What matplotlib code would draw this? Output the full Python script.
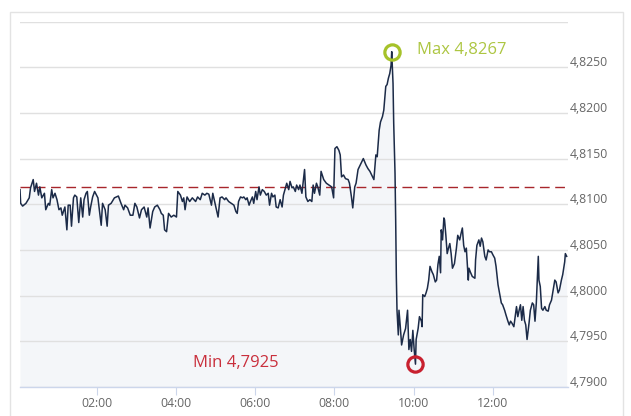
import matplotlib
matplotlib.use("Agg")
import matplotlib.pyplot as plt
from matplotlib.patches import Rectangle
from matplotlib.transforms import ScaledTranslation

plt.rcParams["font.family"] = ["Open Sans", "DejaVu Sans"]

# minutes since 00:00 and price
minutes = [
    4, 5, 8, 13, 18, 20, 24, 26, 29, 32, 34, 37, 41, 43, 47, 49, 52, 54, 57, 60,
    63, 66, 68, 72, 75, 77, 80, 82, 85, 87, 90, 93, 96, 99, 101, 104, 106, 109, 111, 114,
    117, 122, 127, 129, 133, 136, 138, 142, 147, 153, 157, 161, 163, 167, 171, 175, 178, 181, 185, 188,
    192, 196, 198, 201, 205, 208, 212, 216, 218, 221, 223, 226, 229, 233, 237, 241, 243, 247, 250, 252,
    254, 257, 261, 265, 270, 273, 277, 280, 284, 287, 290, 294, 296, 300, 304, 307, 310, 314, 316, 320,
    324, 328, 331, 333, 335, 338, 341, 343, 346, 348, 351, 353, 356, 358, 361, 363, 366, 368, 371, 374,
    377, 380, 382, 385, 387, 390, 392, 395, 398, 401, 403, 406, 408, 411, 413, 416, 418, 421, 423, 426,
    428, 431, 435, 437, 440, 443, 446, 448, 450, 453, 455, 458, 460, 464, 468, 472, 476, 479, 481, 484,
    487, 489, 491, 494, 497, 501, 503, 506, 508, 511, 513, 516, 518, 522, 524, 528, 531, 534, 538, 540,
    543, 545, 548, 550, 553, 555, 558, 560, 562, 564, 566, 567, 569, 570, 572, 573, 574, 575, 577, 578,
    580, 582, 585, 588, 591, 593, 595, 597, 599, 601, 603, 604, 607, 609, 612, 613, 614, 617, 619, 621,
    623, 625, 628, 630, 633, 635, 637, 639, 641, 642, 644, 646, 647, 649, 651, 653, 655, 657, 659, 662,
    665, 667, 670, 672, 674, 676, 678, 680, 683, 684, 686, 689, 693, 694, 696, 699, 701, 703, 705, 708,
    710, 713, 715, 718, 720, 723, 725, 728, 730, 733, 735, 738, 740, 743, 745, 747, 749, 752, 754, 756,
    758, 760, 762, 764, 766, 768, 770, 772, 775, 777, 780, 782, 784, 786, 789, 790, 792, 794, 796, 799,
    801, 804, 806, 809, 811, 814, 816, 819, 821, 824, 826, 829, 830, 832,
]
prices = [
    4.8116, 4.8101, 4.8098, 4.8101, 4.8107, 4.8118, 4.8127, 4.8114, 4.8123, 4.8110,
    4.8119, 4.8107, 4.8112, 4.8094, 4.8101, 4.8099, 4.8116, 4.8107, 4.8112, 4.8105,
    4.8094, 4.8096, 4.8088, 4.8097, 4.8072, 4.8099, 4.8099, 4.8076, 4.8107, 4.8110,
    4.8108, 4.8080, 4.8107, 4.8086, 4.8105, 4.8112, 4.8114, 4.8088, 4.8097, 4.8108,
    4.8114, 4.8107, 4.8077, 4.8101, 4.8094, 4.8076, 4.8099, 4.8101, 4.8107, 4.8109,
    4.8101, 4.8094, 4.8099, 4.8096, 4.8088, 4.8088, 4.8101, 4.8097, 4.8085, 4.8094,
    4.8097, 4.8086, 4.8096, 4.8074, 4.8092, 4.8097, 4.8099, 4.8094, 4.8090, 4.8088,
    4.8072, 4.8070, 4.8090, 4.8086, 4.8088, 4.8086, 4.8114, 4.8110, 4.8103, 4.8107,
    4.8094, 4.8108, 4.8103, 4.8107, 4.8103, 4.8108, 4.8105, 4.8112, 4.8110, 4.8112,
    4.8111, 4.8099, 4.8112, 4.8099, 4.8086, 4.8107, 4.8108, 4.8105, 4.8107, 4.8103,
    4.8101, 4.8099, 4.8092, 4.8090, 4.8103, 4.8108, 4.8107, 4.8108, 4.8105, 4.8107,
    4.8099, 4.8103, 4.8108, 4.8101, 4.8114, 4.8105, 4.8119, 4.8110, 4.8116, 4.8114,
    4.8110, 4.8112, 4.8099, 4.8112, 4.8108, 4.8110, 4.8097, 4.8096, 4.8105, 4.8097,
    4.8110, 4.8118, 4.8123, 4.8116, 4.8125, 4.8118, 4.8119, 4.8114, 4.8121, 4.8116,
    4.8121, 4.8112, 4.8138, 4.8108, 4.8103, 4.8105, 4.8103, 4.8121, 4.8112, 4.8123,
    4.8119, 4.8110, 4.8136, 4.8127, 4.8123, 4.8121, 4.8119, 4.8107, 4.8161, 4.8163,
    4.8159, 4.8154, 4.8130, 4.8132, 4.8128, 4.8127, 4.8123, 4.8108, 4.8096, 4.8119,
    4.8123, 4.8138, 4.8141, 4.8147, 4.8150, 4.8143, 4.8139, 4.8136, 4.8130, 4.8127,
    4.8154, 4.8152, 4.8181, 4.8190, 4.8196, 4.8203, 4.8229, 4.8231, 4.8238, 4.8243,
    4.8252, 4.8267, 4.8232, 4.8189, 4.8134, 4.8083, 4.8021, 4.7984, 4.7957, 4.7984,
    4.7966, 4.7946, 4.7957, 4.7964, 4.7984, 4.7941, 4.7952, 4.7939, 4.7962, 4.7941,
    4.7925, 4.7952, 4.7964, 4.7977, 4.7972, 4.7966, 4.8001, 4.7999, 4.8003, 4.8008,
    4.8017, 4.8032, 4.8026, 4.8023, 4.8015, 4.8017, 4.8034, 4.8043, 4.8025, 4.8072,
    4.8061, 4.8085, 4.8083, 4.8066, 4.8046, 4.8052, 4.8057, 4.8046, 4.8030, 4.8035,
    4.8052, 4.8066, 4.8061, 4.8068, 4.8074, 4.8055, 4.8048, 4.8052, 4.8017, 4.8030,
    4.8026, 4.8021, 4.8019, 4.8039, 4.8055, 4.8061, 4.8054, 4.8063, 4.8059, 4.8043,
    4.8039, 4.8050, 4.8048, 4.8048, 4.8045, 4.8041, 4.8032, 4.8012, 4.8004, 4.7992,
    4.7990, 4.7984, 4.7979, 4.7972, 4.7968, 4.7972, 4.7970, 4.7966, 4.7977, 4.7988,
    4.7977, 4.7984, 4.7990, 4.7973, 4.7988, 4.7973, 4.7968, 4.7952, 4.7970, 4.7984,
    4.7992, 4.7990, 4.7972, 4.7992, 4.8043, 4.8017, 4.8010, 4.7986, 4.7984, 4.7988,
    4.7984, 4.7983, 4.7990, 4.7995, 4.8004, 4.8017, 4.8015, 4.8003, 4.8006, 4.8017,
    4.8023, 4.8037, 4.8046, 4.8043,
]
prev_close = 4.8119
max_label = "Max 4,8267"
min_label = "Min 4,7925"

x_ticks = [120, 240, 360, 480, 600, 720]
x_labels = ["02:00", "04:00", "06:00", "08:00", "10:00", "12:00"]
y_ticks = [4.790, 4.795, 4.800, 4.805, 4.810, 4.815, 4.820, 4.825, 4.830]
y_labels = ["4,7900", "4,7950", "4,8000", "4,8050", "4,8100", "4,8150", "4,8200", "4,8250", ""]

fig = plt.figure(figsize=(6.31, 4.16), dpi=100)
ax = fig.add_axes([20 / 631, 29 / 416, 548 / 631, 365.5 / 416])

# outer frame of the widget
fig.patches.append(Rectangle((10 / 631, -0.05), 613 / 631, 0.05 + 404 / 416,
                             transform=fig.transFigure, fill=False,
                             edgecolor="#e3e3e3", lw=1))

ax.fill_between(minutes, prices, y_ticks[0], color="#f4f6f9", lw=0, zorder=1)
ax.plot(minutes, prices, color="#1c2b48", lw=1.1, zorder=3)
ax.axhline(prev_close, color="#a8262c", lw=1.0, dashes=(7, 4), zorder=2.5)

i_max = prices.index(max(prices))
i_min = prices.index(min(prices))
ax.plot(minutes[i_max], prices[i_max], "o", ms=11, mfc="none", mec="#a6c22a", mew=2.3, zorder=4)
ax.plot(minutes[i_min], prices[i_min], "o", ms=11, mfc="none", mec="#c8202f", mew=2.3, zorder=4)
ax.annotate(max_label, (minutes[i_max], prices[i_max]), xytext=(18, 1), textcoords="offset points",
            color="#adc642", fontsize=12, ha="left", va="center")
ax.annotate(min_label, (minutes[i_min], prices[i_min]), xytext=(-98.5, 0.7), textcoords="offset points",
            color="#c92f3c", fontsize=12, ha="right", va="center")

ax.set_xlim(4, 834)
ax.set_ylim(y_ticks[0], y_ticks[-1])

ax.set_axisbelow("line")
ax.yaxis.grid(True, color="#e0e0e0", lw=1)
ax.yaxis.tick_right()
ax.set_yticks(y_ticks)
ax.set_yticklabels(y_labels)
ax.tick_params(axis="y", length=0, pad=1, labelsize=8.8, labelcolor="#666666")
for lab in ax.get_yticklabels():
    lab.set_transform(lab.get_transform() + ScaledTranslation(0, 0.06, fig.dpi_scale_trans))

ax.set_xticks(x_ticks)
ax.set_xticklabels(x_labels)
ax.tick_params(axis="x", length=5.8, width=0.8, color="#ccd6eb", pad=1.5,
               labelsize=8.8, labelcolor="#666666")

for side in ("top", "left", "right"):
    ax.spines[side].set_visible(False)
ax.spines["bottom"].set_color("#ccd6eb")
ax.spines["bottom"].set_linewidth(1)

fig.savefig("out.png", dpi=100)
